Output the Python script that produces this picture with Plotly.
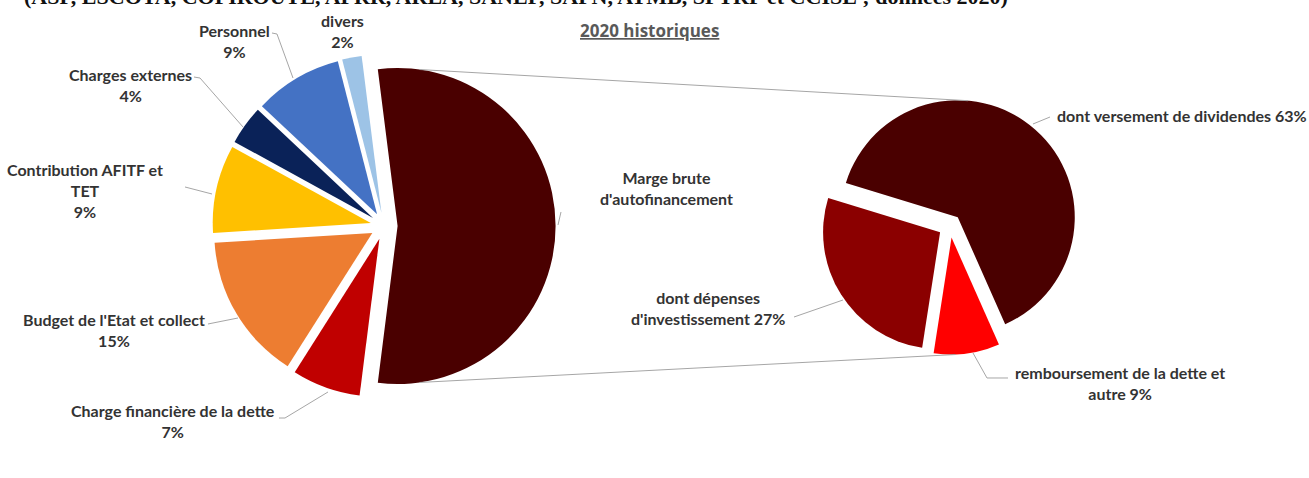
import math
import plotly.graph_objects as go

# ---- data -------------------------------------------------------------
left_labels = [
    "Marge brute<br>d'autofinancement",
    "Charge financière de la dette",
    "Budget de l'Etat et collect",
    "Contribution AFITF et<br>TET",
    "Charges externes",
    "Personnel",
    "divers",
]
left_values = [54, 7, 15, 9, 4, 9, 2]
left_show_pct = [False, True, True, True, True, True, True]
left_colors = ["#4a0000", "#c00000", "#ed7d31", "#ffc000", "#0a2258", "#4472c4", "#9dc3e6"]

right_labels = [
    "dont versement de dividendes",
    "remboursement de la dette et<br>autre",
    "dont dépenses<br>d'investissement",
]
right_values = [63, 9, 27]
right_colors = ["#4a0000", "#ff0000", "#8b0000"]

title_text = "2020 historiques"
source_text = "(ASF, ESCOTA, COFIROUTE, APRR, AREA, SANEF, SAPN, ATMB, SFTRF et CCISE ; données 2020)"

# ---- geometry (pixels) -----------------------------------------------
W, H = 1309, 478
L_CX, L_CY, L_R, L_PULL = 384, 226, 158, 0.086
R_CX, R_CY, R_R, R_PULL = 950, 226, 117, 0.10
R_ROT = -73


def domain(cx, cy, r, pull):
    half = r * (1 + pull)
    return dict(x=[(cx - half) / W, (cx + half) / W],
                y=[1 - (cy + half) / H, 1 - (cy - half) / H])


def px(x, y):
    return x / W, 1 - y / H


l_rot = 90 - left_values[0] / sum(left_values) * 360 / 2

fig = go.Figure()
fig.add_trace(go.Pie(
    values=left_values, labels=[l.replace("<br>", " ") for l in left_labels],
    sort=False, direction="clockwise", rotation=l_rot,
    pull=[L_PULL] * len(left_values),
    marker=dict(colors=left_colors, line=dict(color="white", width=0)),
    textinfo="none", hoverinfo="label+percent",
    domain=domain(L_CX, L_CY, L_R, L_PULL), showlegend=False,
))
fig.add_trace(go.Pie(
    values=right_values, labels=[l.replace("<br>", " ") for l in right_labels],
    sort=False, direction="clockwise", rotation=R_ROT,
    pull=[R_PULL] * len(right_values),
    marker=dict(colors=right_colors, line=dict(color="white", width=0)),
    textinfo="none", hoverinfo="label+percent",
    domain=domain(R_CX, R_CY, R_R, R_PULL), showlegend=False,
))


def arc_point(cx, cy, r, pull, rot, values, idx, ang):
    """Point on the outer arc of slice idx at absolute angle ang (deg, clockwise from 12 o'clock)."""
    tot = sum(values)
    start = rot + sum(values[:idx]) / tot * 360
    mid = math.radians(start + values[idx] / tot * 180)
    ox, oy = cx + pull * r * math.sin(mid), cy - pull * r * math.cos(mid)
    a = math.radians(ang)
    return ox + r * math.sin(a), oy - r * math.cos(a)


# connector lines between the big slice and the breakdown pie
grey = "#a6a6a6"
shapes = []
lt = arc_point(L_CX, L_CY, L_R, L_PULL, l_rot, left_values, 0, 8)
lb = arc_point(L_CX, L_CY, L_R, L_PULL, l_rot, left_values, 0, 172)
rt = arc_point(R_CX, R_CY, R_R, R_PULL, R_ROT, right_values, 0, 5)
rb = arc_point(R_CX, R_CY, R_R, R_PULL, R_ROT, right_values, 1, 178)
for a, b in [(lt, rt), (lb, rb)]:
    x0, y0 = px(*a)
    x1, y1 = px(*b)
    shapes.append(dict(type="line", xref="paper", yref="paper", x0=x0, y0=y0, x1=x1, y1=y1,
                       line=dict(color=grey, width=1)))

# leader lines from labels to slices
leaders = [
    [(272, 33), (277, 34), (293, 78)],
    [(194, 77), (200, 78), (243, 127)],
    [(185, 187), (212, 194)],
    [(208, 324), (238, 318)],
    [(279, 418), (285, 418), (328, 392)],
    [(558, 225), (561, 212)],
    [(794, 317), (843, 300)],
    [(1033, 124), (1050, 117)],
    [(973, 353), (987, 378), (1008, 378)],
]
for pts in leaders:
    path = "M " + " L ".join(f"{px(x, y)[0]:.5f},{px(x, y)[1]:.5f}" for x, y in pts)
    shapes.append(dict(type="path", xref="paper", yref="paper", path=path,
                       line=dict(color=grey, width=1)))

# ---- labels -------------------------------------------------------------
lab_font = dict(family="Lato, Open Sans, sans-serif", size=16, color="#333333")
left_pos = [(666, 188), (173, 421), (114, 330), (85, 191), (130, 85), (234, 41), (342, 31)]
annotations = []
for lbl, val, show, (x, y) in zip(left_labels, left_values, left_show_pct, left_pos):
    txt = f"<b>{lbl}<br>{val}%</b>" if show else f"<b>{lbl}</b>"
    ax, ay = px(x, y)
    annotations.append(dict(x=ax, y=ay, xref="paper", yref="paper", text=txt, showarrow=False,
                            font=lab_font, align="center", xanchor="center", yanchor="middle"))

right_pos = [(1055, 116, "left"), (1120, 383, "center"), (708, 308, "center")]
for lbl, val, (x, y, anc) in zip(right_labels, right_values, right_pos):
    ax, ay = px(x, y)
    annotations.append(dict(x=ax, y=ay, xref="paper", yref="paper", text=f"<b>{lbl} {val}%</b>",
                            showarrow=False, font=lab_font, align="center",
                            xanchor=anc, yanchor="middle"))

tx, ty = px(649, 30)
annotations.append(dict(x=tx, y=ty, xref="paper", yref="paper", text=f"<b>{title_text}</b>",
                        showarrow=False,
                        font=dict(family="Open Sans, sans-serif", size=17, color="#595959",
                                  lineposition="under"),
                        xanchor="center", yanchor="middle"))

# source line sits partly above the top edge of the page
sx, sy = px(22, 11)
annotations.append(dict(x=sx, y=sy, xref="paper", yref="paper", text=f"<b>{source_text}</b>",
                        showarrow=False,
                        font=dict(family="Liberation Serif, serif", size=22, color="#111111"),
                        xanchor="left", yanchor="bottom"))

fig.update_layout(
    width=W, height=H,
    margin=dict(l=0, r=0, t=0, b=0),
    paper_bgcolor="white", plot_bgcolor="white",
    shapes=shapes, annotations=annotations,
)

fig.write_html("out.html")
